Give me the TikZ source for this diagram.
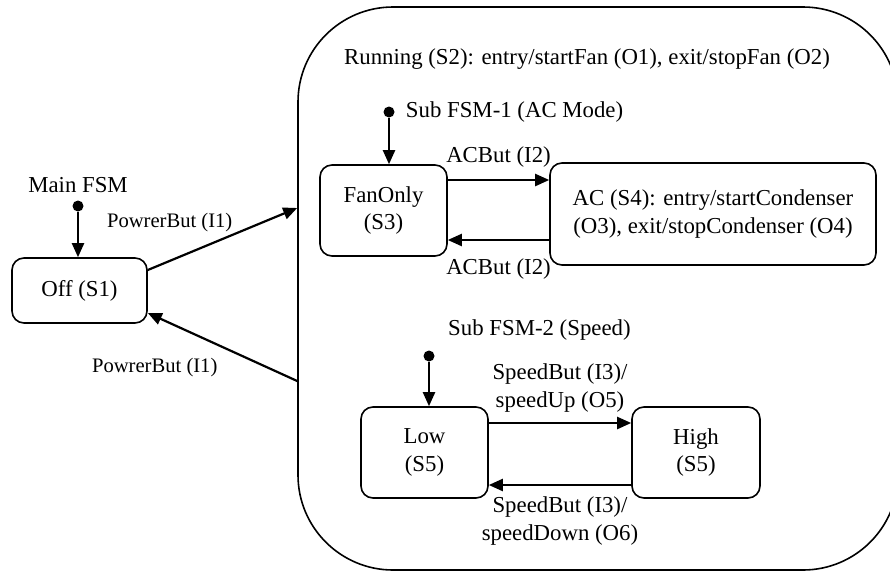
\documentclass[tikz,border=0pt]{standalone}
\usepackage{fontspec}
\setmainfont{Liberation Serif}
\usetikzlibrary{shapes.geometric, arrows.meta, positioning}

\begin{document}
\begin{tikzpicture}[
    x=0.5pt, y=-0.5pt,
    font=\fontsize{11.4}{13.8}\selectfont,
    state/.style={rectangle, draw=black, line width=0.8pt, rounded corners=6pt, align=center, inner sep=2pt},
    superstate/.style={rectangle, draw=black, line width=0.8pt, rounded corners=47.5pt, minimum width=300pt, minimum height=281.5pt},
    initial/.style={circle, fill=black, inner sep=0pt, minimum size=5.5pt},
    trigger/.style={font=\fontsize{10.3}{12}\selectfont, inner sep=2pt},
    event/.style={inner sep=2pt, align=center},
    line/.style={draw=black, -{Triangle[length=7pt, width=6pt]}, line width=1.1pt}
]
    \useasboundingbox (0,0) rectangle (890,574);
    \clip (0,0) rectangle (890,574);

    % --- MAIN FSM ---
    \node [initial] (mainInit) at (78,206) {};
    \node [above=0pt of mainInit] (mainLabel) {Main FSM};
    \node [state, minimum width=67.5pt, minimum height=32.5pt] (off) at (79.5,290.5) {Off (S1)};

    \node [superstate] (running) at (598,288.5) {};
    \node (runLabel) at (587,59) {Running (S2): entry/startFan (O1), exit/stopFan (O2)};

    % --- SUB FSM-1: AC Mode ---
    \node [initial] (acInit) at (389,112) {};
    \node [right=2pt of acInit] (acLabel) {Sub FSM-1 (AC Mode)};
    \node [state, minimum width=63.5pt, minimum height=45.5pt] (fanonly) at (383.5,210.5) {FanOnly\\(S3)};
    \node [state, minimum width=163pt, minimum height=51pt] (ac) at (713,214) {AC (S4): entry/startCondenser\\(O3), exit/stopCondenser (O4)};

    % --- SUB FSM-2: Speed ---
    \node [initial] (speedInit) at (429,356) {};
    \node [above right=2pt and 4pt of speedInit] (speedLabel) {Sub FSM-2 (Speed)};
    \node [state, minimum width=63.5pt, minimum height=45.5pt] (low) at (424.5,452.5) {Low\\(S5)};
    \node [state, minimum width=64pt, minimum height=45.5pt] (high) at (696,452.5) {High\\(S5)};

    % --- TRANSITIONS ---
    \path [line] (mainInit) -- (mainInit |- off.north);
    \path [line] ([yshift=10.25pt]off.east) -- ([yshift=40.25pt]running.west)
        node [trigger, pos=0.6, above left, yshift=-2pt] {PowrerBut (I1)};
    \path [line] ([yshift=-46.25pt]running.west) -- ([yshift=-11.25pt]off.east)
        node [trigger, pos=0.5, below left, yshift=-3pt] {PowrerBut (I1)};

    \path [line] (acInit) -- (acInit |- fanonly.north);
    \path [line] ([yshift=15.25pt]fanonly.east) -- ([yshift=15.25pt]fanonly.east -| ac.west)
        node [event, midway, above=4pt] {ACBut (I2)};
    \path [line] ([yshift=-14.75pt]fanonly.east -| ac.west) -- ([yshift=-14.75pt]fanonly.east)
        node [event, midway, below=7pt] {ACBut (I2)};

    \path [line] (speedInit) -- (speedInit |- low.north);
    \path [line] ([yshift=14.75pt]low.east) -- ([yshift=14.75pt]low.east -| high.west)
        node [event, midway, above=3pt] {SpeedBut (I3)/\\speedUp (O5)};
    \path [line] ([yshift=-16.25pt]low.east -| high.west) -- ([yshift=-16.25pt]low.east)
        node [event, midway, below=3.5pt] {SpeedBut (I3)/\\speedDown (O6)};

\end{tikzpicture}
\end{document}
